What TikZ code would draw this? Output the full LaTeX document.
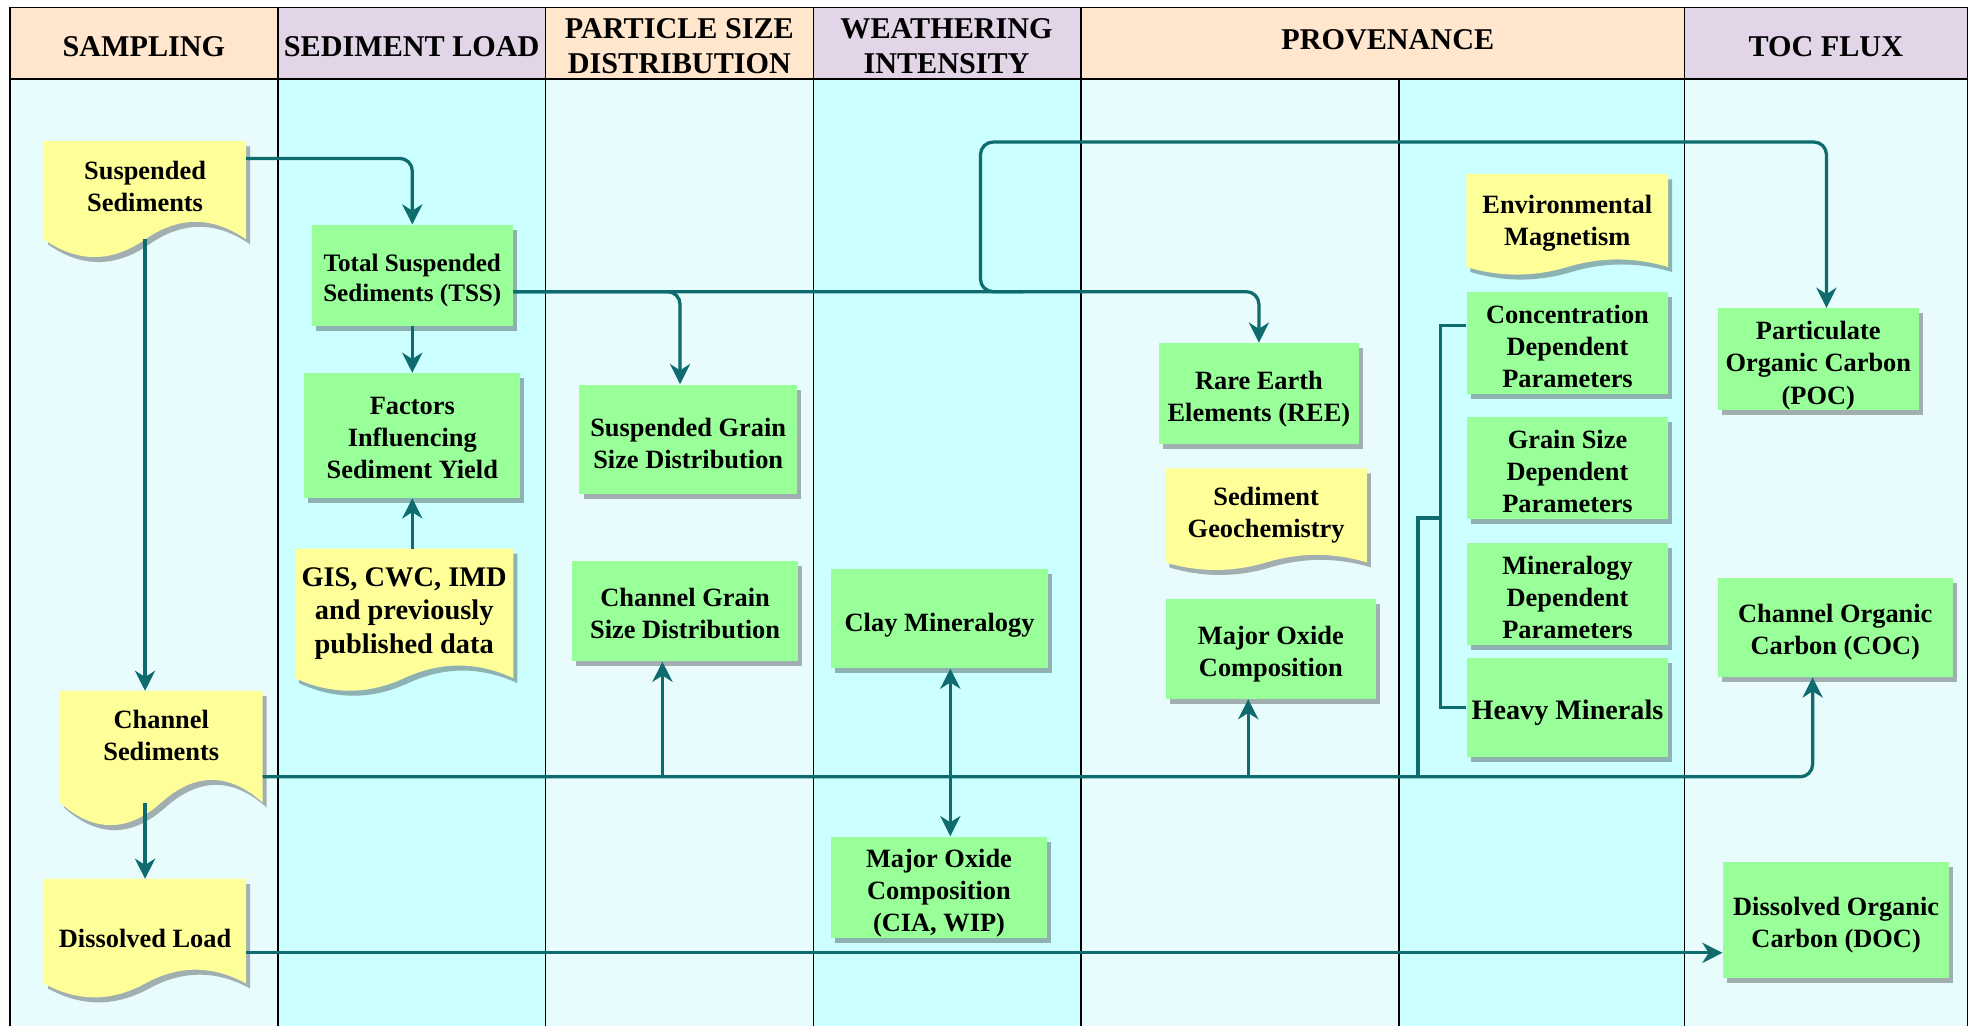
\documentclass[tikz,border=0pt]{standalone}
\usepackage{fontspec}
\setmainfont{Liberation Serif}
\usetikzlibrary{arrows.meta,calc,shadows}
\definecolor{colPeach}{HTML}{FFE6CC}
\definecolor{colLav}{HTML}{E1D5E7}
\definecolor{colLight}{HTML}{E8FCFD}
\definecolor{colBright}{HTML}{CCFFFF}
\definecolor{colGreen}{HTML}{99FF99}
\definecolor{colYellow}{HTML}{FFFF99}
\definecolor{colTeal}{HTML}{0E6B6E}
\pgfdeclarelayer{back}
\pgfdeclarelayer{docs}
\pgfsetlayers{back,docs,main}
\newcommand\up[2]{\raisebox{#1}[\height][\depth]{#2}}
\newcommand\T[2][-2pt]{\raisebox{#1}[\height][\depth]{\begin{tabular}{@{}c@{}}#2\end{tabular}}}
\newcommand\docpath[4]{let \p1=($(#1.north west)+(#3,#4)$), \p2=($(#1.south east)+(#3,#4)$), \n1={(\x2-\x1)/6}, \n2={4*#2/3} in (\x1,\y1) -- (\x2,\y1) -- (\x2,\y2) .. controls (\x2-\n1,\y2+\n2) and (\x2-2*\n1,\y2+\n2) .. ({(\x1+\x2)/2},\y2) .. controls ({(\x1+\x2)/2-\n1},\y2-\n2) and (\x1+\n1,\y2-\n2) .. (\x1,\y2) -- cycle}
\newcommand\docshape[2]{%
  \begin{pgfonlayer}{docs}
  \fill[black,opacity=0.3] \docpath{#1}{#2}{1.6pt}{-2pt};
  \fill[colYellow] \docpath{#1}{#2}{0pt}{0pt};
  \end{pgfonlayer}}
\tikzset{
  every node/.style={font=\bfseries\fontsize{10.5}{12.8}\selectfont, align=center, inner sep=1pt},
  gbx/.style 2 args={fill=colGreen, minimum width={#1*0.5pt}, minimum height={#2*0.5pt},
    drop shadow={shadow xshift=1.6pt, shadow yshift=-2pt, fill=black, opacity=0.3}},
  dbx/.style 2 args={minimum width={#1*0.5pt}, minimum height={#2*0.5pt}},
  conn/.style={draw=colTeal, line width=1.3pt, -{Stealth[length=8pt,width=8pt,inset=2.5pt]}},
  plainline/.style={draw=colTeal, line width=1.3pt},
  hdr/.style={font=\bfseries\fontsize{12}{14}\selectfont},
  lane/.style={draw=black, line width=0.6pt},
}
\begin{document}
\begin{tikzpicture}[x=0.5pt,y=-0.5pt]
\useasboundingbox (0,0) rectangle (1568,816);
\begin{pgfonlayer}{back}
  \fill[colPeach] (8,6) rectangle (221,63);
  \fill[colLav] (221,6) rectangle (434,63);
  \fill[colPeach] (434,6) rectangle (647,63);
  \fill[colLav] (647,6) rectangle (860,63);
  \fill[colPeach] (860,6) rectangle (1340,63);
  \fill[colLav] (1340,6) rectangle (1565,63);
  \fill[colLight] (8,63) rectangle (221,816);
  \fill[colBright] (221,63) rectangle (434,816);
  \fill[colLight] (434,63) rectangle (647,816);
  \fill[colBright] (647,63) rectangle (860,816);
  \fill[colLight] (860,63) rectangle (1113,816);
  \fill[colBright] (1113,63) rectangle (1340,816);
  \fill[colLight] (1340,63) rectangle (1565,816);
  \draw[lane] (8,816) -- (8,6) -- (1565,6) -- (1565,816);
  \draw[lane] (8,63) -- (1565,63);
  \foreach \xx in {221,434,647,860,1340} \draw[lane] (\xx,6) -- (\xx,816);
  \draw[lane] (1113,63) -- (1113,816);
\end{pgfonlayer}

% headers
\node[hdr] (hsamp) at (114.5,37) {SAMPLING};
\node[hdr] (hsed) at (327.5,37) {SEDIMENT LOAD};
\node[hdr] (hpsd) at (540.5,37) {PARTICLE SIZE\\DISTRIBUTION};
\node[hdr] (hwea) at (753,37) {WEATHERING\\INTENSITY};
\node[hdr] (hprov) at (1104,32) {PROVENANCE};
\node[hdr] (htoc) at (1452.5,37) {TOC FLUX};

% document shapes (yellow)
\node[dbx={160}{77.3}] (ss) at (115.4,151.4) {\T[0.5pt]{Suspended\\Sediments}};
\node[dbx={173}{102.3}, font=\bfseries\fontsize{11.3}{13.3}\selectfont] (gis) at (321.5,487.9) {GIS, CWC, IMD\\and previously\\published data};
\node[dbx={160.5}{88}] (cs) at (128.3,594) {\up{4.5pt}{Channel}\\\up{4.5pt}{Sediments}};
\node[dbx={160}{82.5}] (dl) at (115.4,740.75) {\up{-3pt}{Dissolved Load}};
\node[dbx={159.6}{73}] (env) at (1246.8,175.5) {\T[-1pt]{Environmental\\Magnetism}};
\node[dbx={159.5}{74}] (sgeo) at (1007.25,410) {Sediment\\Geochemistry};
\docshape{ss}{7pt}
\docshape{gis}{5pt}
\docshape{cs}{9pt}
\docshape{dl}{5.5pt}
\docshape{env}{3pt}
\docshape{sgeo}{3pt}

% process boxes (green)
\node[gbx={160}{80}, font=\bfseries\fontsize{10}{12.2}\selectfont] (tss) at (328,219) {\T{Total Suspended\\Sediments (TSS)}};
\node[gbx={172}{99}] (fac) at (328,346.5) {\T[-1.8pt]{Factors\\Influencing\\Sediment Yield}};
\node[gbx={173}{87}] (sgs) at (547.5,349.5) {\T[-2.7pt]{Suspended Grain\\Size Distribution}};
\node[gbx={180}{80}] (cgs) at (545,486) {\T[-2pt]{Channel Grain\\Size Distribution}};
\node[gbx={173}{79}] (clay) at (747.5,492) {\T[-2.7pt]{Clay Mineralogy}};
\node[gbx={172.5}{80}] (moxw) at (747,706) {\T[-2.2pt]{Major Oxide\\Composition\\(CIA, WIP)}};
\node[gbx={159}{80}] (ree) at (1001.5,313) {\T[-2.2pt]{Rare Earth\\Elements (REE)}};
\node[gbx={167.5}{79.5}] (moxp) at (1011,516) {\T[-2.2pt]{Major Oxide\\Composition}};
\node[gbx={160}{80}] (conc) at (1247,273) {\T[-2.3pt]{Concentration\\Dependent\\Parameters}};
\node[gbx={160}{79.5}] (gsdp) at (1247,372.5) {\T[-2.3pt]{Grain Size\\Dependent\\Parameters}};
\node[gbx={160}{79.5}] (mindp) at (1247,472.6) {\T[-2.5pt]{Mineralogy\\Dependent\\Parameters}};
\node[gbx={160}{79}, font=\bfseries\fontsize{11.2}{13}\selectfont] (heavy) at (1247,563) {\T{Heavy Minerals}};
\node[gbx={160}{79.5}] (poc) at (1446.5,285.7) {\T[-2.5pt]{Particulate\\Organic Carbon\\(POC)}};
\node[gbx={187}{79}] (coc) at (1460,499) {\T{Channel Organic\\Carbon (COC)}};
\node[gbx={180}{92}] (doc) at (1460.7,732) {\T{Dissolved Organic\\Carbon (DOC)}};

% connectors
\draw[conn, rounded corners=5pt] (ss.east |- 0,126) -| (tss.north);
\draw[conn] (ss.south) -- (ss.south |- cs.north);
\draw[conn] (dl.north |- cs.south) -- (dl.north);
\draw[conn] (tss.south) -- (fac.north);
\draw[conn] (fac.south |- gis.north) -- (fac.south);
\draw[conn, rounded corners=5pt] (tss.east |- 0,232) -| (541,0 |- sgs.north);
\draw[conn, rounded corners=5pt] (tss.east |- 0,232) -| (ree.north);
\coordinate (pocsplit) at (814,232);
\draw[conn, rounded corners=5pt] (pocsplit) -- (780,232) -- (780,113) -| (1453,0 |- poc.north);
\draw[conn, rounded corners=5pt] (cs.east |- 0,618) -| (1442,0 |- coc.south);
\coordinate (jcgs) at (527,618);
\draw[conn] (jcgs) -- (jcgs |- cgs.south);
\coordinate (jclay) at (756,618);
\draw[conn] (jclay) -- (jclay |- clay.south);
\draw[conn] (jclay) -- (jclay |- moxw.north);
\coordinate (jmox) at (993,618);
\draw[conn] (jmox) -- (jmox |- moxp.south);
\coordinate (jpar) at (1128,618);
\draw[plainline] (jpar) -- (1128,412) -- (1146,412);
\draw[plainline] (conc.west |- 0,259) -- (1146,259) -- (1146,0 |- heavy.west) -- (heavy.west);
\draw[conn] (dl.east |- 0,758) -- (doc.west |- 0,758);
\end{tikzpicture}
\end{document}
